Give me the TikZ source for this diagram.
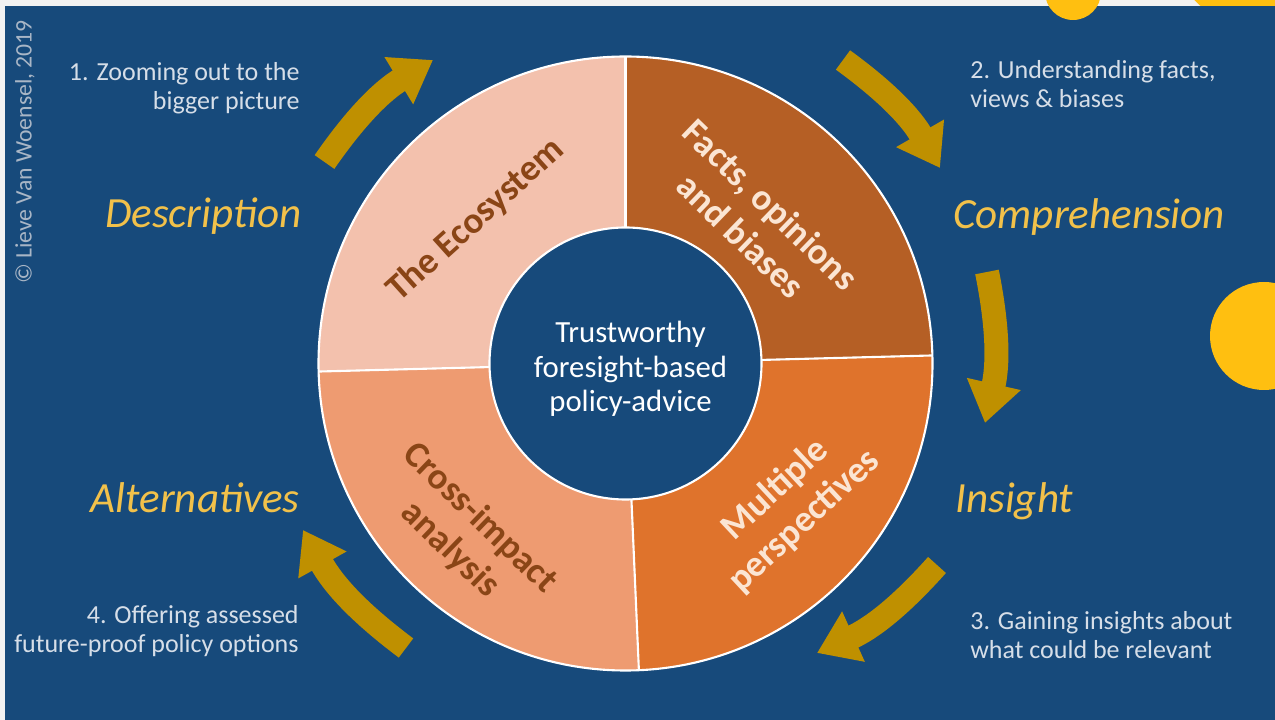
\documentclass[tikz,border=0pt]{standalone}
\usepackage{fontspec}
\setmainfont{Carlito}
\usepackage{tikz}
\usetikzlibrary{arrows.meta,calc}

\definecolor{panelblue}{HTML}{174A7B}
\definecolor{ecopink}{HTML}{F3C1AD}
\definecolor{factsbrown}{HTML}{B55F25}
\definecolor{multiorange}{HTML}{DF732C}
\definecolor{crosssalmon}{HTML}{EE9B71}
\definecolor{darkbrown}{HTML}{8A4516}
\definecolor{cream}{HTML}{FBE5D3}
\definecolor{arrowgold}{HTML}{BF9000}
\definecolor{labelgold}{HTML}{F2C14A}
\definecolor{notegray}{HTML}{D6DEE8}
\definecolor{dotyellow}{HTML}{FFBF10}
\definecolor{copygray}{HTML}{A9B6C6}

\begin{document}
\begin{tikzpicture}[x=0.02cm,y=0.02cm,
  ringtext/.style={font=\fontsize{21}{24.5}\selectfont\bfseries, align=center, inner sep=0pt},
  phase/.style={font=\fontsize{24.5}{28}\selectfont\itshape, text=labelgold, inner sep=0pt},
  note/.style={font=\fontsize{14.8}{16.5}\selectfont, text=notegray, inner sep=0pt},
  cyclearrow/.style={draw=arrowgold, line width=0.48cm, -{Triangle[length=0.8cm,width=1.05cm]}}]

\useasboundingbox (0,0) rectangle (1275,720);
\clip (0,0) rectangle (1275,720);

% slide background
\fill[gray!10] (0,0) rectangle (1275,720);
\fill[dotyellow] (1270,790) circle[radius=103];
\fill[panelblue] (5,0) rectangle (1275,714);
\fill[dotyellow] (1073,728) circle[radius=28];
\fill[dotyellow] (1264,384) circle[radius=54];

\coordinate (c) at (625.5,356.5);

% ring
\fill[ecopink] (c) -- ++(90:307) arc[start angle=90, end angle=181.5, radius=307] -- cycle;
\fill[factsbrown] (c) -- ++(1.5:307) arc[start angle=1.5, end angle=90, radius=307] -- cycle;
\fill[multiorange] (c) -- ++(-87.5:307) arc[start angle=-87.5, end angle=1.5, radius=307] -- cycle;
\fill[crosssalmon] (c) -- ++(181.5:307) arc[start angle=181.5, end angle=272.5, radius=307] -- cycle;
\draw[white, line width=1.2pt] (c) circle[radius=307];
\foreach \a in {1.5,90,181.5,272.5}
  \draw[white, line width=1.2pt] ($(c)+(\a:136)$) -- ($(c)+(\a:307)$);
\filldraw[fill=panelblue, draw=white, line width=1.2pt] (c) circle[radius=136];

\node[ringtext, text=darkbrown, rotate=42] (ecosys) at (476,500) {The Ecosystem};
\node[ringtext, text=cream, rotate=-44] (facts) at (756,500) {Facts, opinions\\and biases};
\node[ringtext, text=cream, rotate=43] (multi) at (790,214.5) {Multiple\\perspectives};
\node[ringtext, text=darkbrown, rotate=-44] (cross) at (465,186) {Cross-impact\\analysis};
\node[align=center, text=white, font=\fontsize{17.5}{19.6}\selectfont, inner sep=0pt] (core)
  at (630.5,351) {Trustworthy\\foresight-based\\policy-advice};

% arrows round the ring
\coordinate (t1) at (324.5,558); \coordinate (h1) at (433,660);
\coordinate (t2) at (843,660);   \coordinate (h2) at (940,552);
\coordinate (t3) at (987,448);   \coordinate (h3) at (985,297);
\coordinate (t4) at (937,155);   \coordinate (h4) at (817,67);
\coordinate (t5) at (406,72);    \coordinate (h5) at (303,190);
\draw[cyclearrow] (t1) to[bend left=12] (h1);
\draw[cyclearrow] (t2) to[bend left=12] (h2);
\draw[cyclearrow] (t3) to[bend left=12] (h3);
\draw[cyclearrow] (t4) to[bend left=12] (h4);
\draw[cyclearrow] (t5) to[bend left=12] (h5);

\node[phase, anchor=base east] (desc) at (302,492) {Description};
\node[phase, anchor=base west] (compr) at (953,491) {Comprehension};
\node[phase, anchor=base east] (altern) at (300,207) {Alternatives};
\node[phase, anchor=base west] (insight) at (955,207) {Insight};

\node[note, align=right, anchor=east] (step1) at (300,632)
  {1. Zooming out to the\\bigger picture};
\node[note, align=left, anchor=west] (step2) at (970,636)
  {2. Understanding facts,\\views \& biases};
\node[note, align=left, anchor=west] (step3) at (970,85)
  {3. Gaining insights about\\what could be relevant};
\node[note, align=right, anchor=east] (step4) at (299,89)
  {4. Offering assessed\\future-proof policy options};

\node[rotate=90, text=copygray, font=\fontsize{13.5}{16}\selectfont, inner sep=0pt] (copyr)
  at (25,568) {© Lieve Van Woensel, 2019};
\end{tikzpicture}
\end{document}
